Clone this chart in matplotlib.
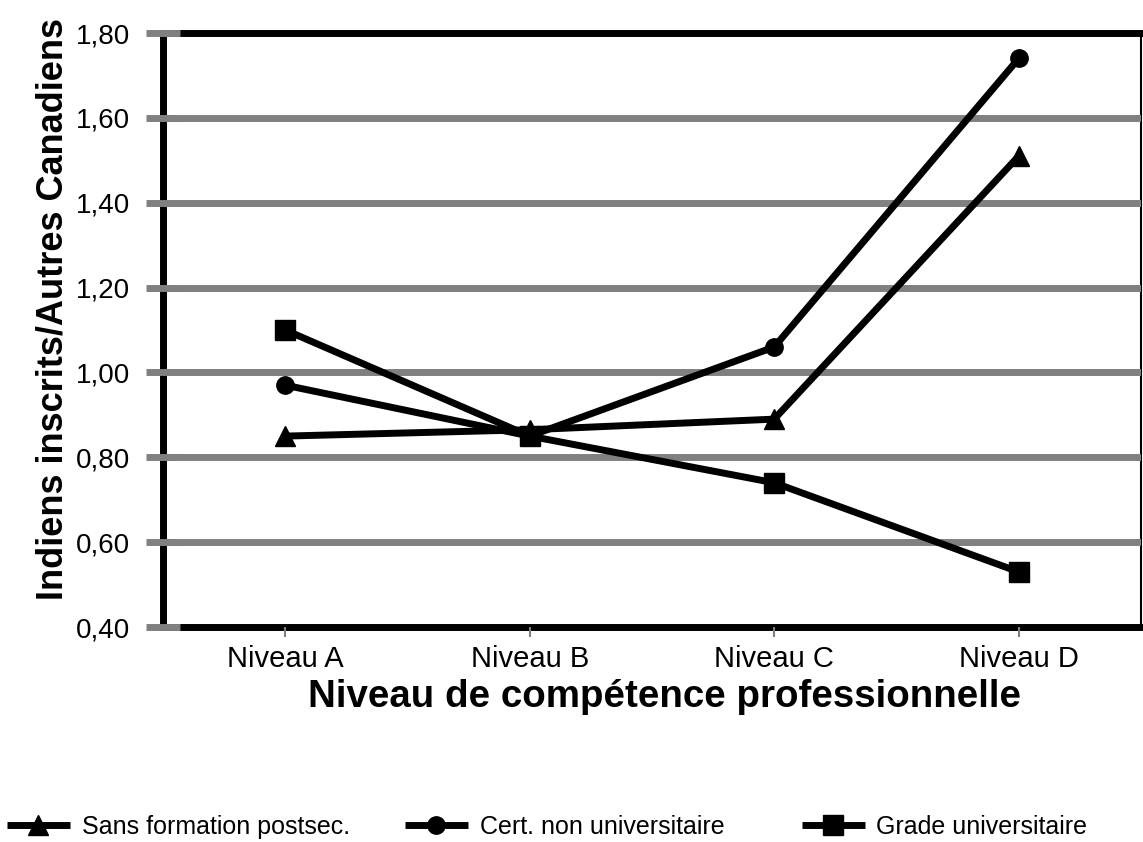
import matplotlib
matplotlib.use("Agg")
from matplotlib import pyplot as plt

plt.rcParams['font.family'] = ['Liberation Sans', 'DejaVu Sans']

# données
categories = ['Niveau A', 'Niveau B', 'Niveau C', 'Niveau D']
sans_formation = [0.85, 0.865, 0.89, 1.51]
cert_non_univ = [0.97, 0.85, 1.06, 1.74]
grade_univ = [1.10, 0.85, 0.74, 0.53]

y_ticks = [0.4, 0.6, 0.8, 1.0, 1.2, 1.4, 1.6, 1.8]
y_tick_labels = ['0,40', '0,60', '0,80', '1,00', '1,20', '1,40', '1,60', '1,80']

series_names = ['Sans formation postsec.', 'Cert. non universitaire', 'Grade universitaire']
markers = ['^', 'o', 's']
marker_sizes = [14, 12.5, 14]

fig = plt.figure(figsize=(11.43, 8.42), dpi=100)
ax = fig.add_axes([0.1426, 0.2553, 0.8556, 0.7055])

x = list(range(len(categories)))
lines = []
for vals, m, ms, name in zip([sans_formation, cert_non_univ, grade_univ],
                             markers, marker_sizes, series_names):
    ln, = ax.plot(x, vals, color='black', lw=5, marker=m, markersize=ms,
                  label=name, zorder=3, solid_capstyle='butt')
    lines.append(ln)

ax.set_xlim(-0.5, 3.5)
ax.set_ylim(0.4, 1.8)
ax.set_xticks(x)
ax.set_xticklabels(categories, fontsize=21)
ax.set_yticks(y_ticks)
ax.set_yticklabels(y_tick_labels, fontsize=20)

ax.set_axisbelow(False)
ax.yaxis.grid(True, color='#808080', lw=5)
ticks = ax.yaxis.get_major_ticks()
ticks[0].gridline.set_visible(False)
ticks[-1].gridline.set_visible(False)

ax.tick_params(axis='y', direction='inout', length=24, width=5,
               color='#808080', pad=12)
ax.tick_params(axis='x', direction='out', length=7, width=1.5,
               color='#808080', pad=6)

for side in ['left', 'top', 'bottom']:
    ax.spines[side].set_linewidth(5)
    ax.spines[side].set_color('black')
ax.spines['right'].set_linewidth(1.5)
ax.spines['right'].set_color('black')

fig.text(53 / 1143, 0.633, 'Indiens inscrits/Autres Canadiens', rotation=90,
         ha='center', va='center', fontsize=26, fontweight='bold')
fig.text(0.581, 0.172, 'Niveau de compétence professionnelle',
         ha='center', va='center', fontsize=27.7, fontweight='bold')

# légende en bas, trois entrées placées séparément
leg_x = [7 / 1143, 405 / 1143, 802 / 1143]
for ln, lx in zip(lines, leg_x):
    fig.legend(handles=[ln], loc='center left', bbox_to_anchor=(lx, 0.018),
               frameon=False, fontsize=18, handlelength=2.5, handletextpad=0.48,
               borderpad=0, borderaxespad=0)

fig.savefig('out.png', dpi=100)
